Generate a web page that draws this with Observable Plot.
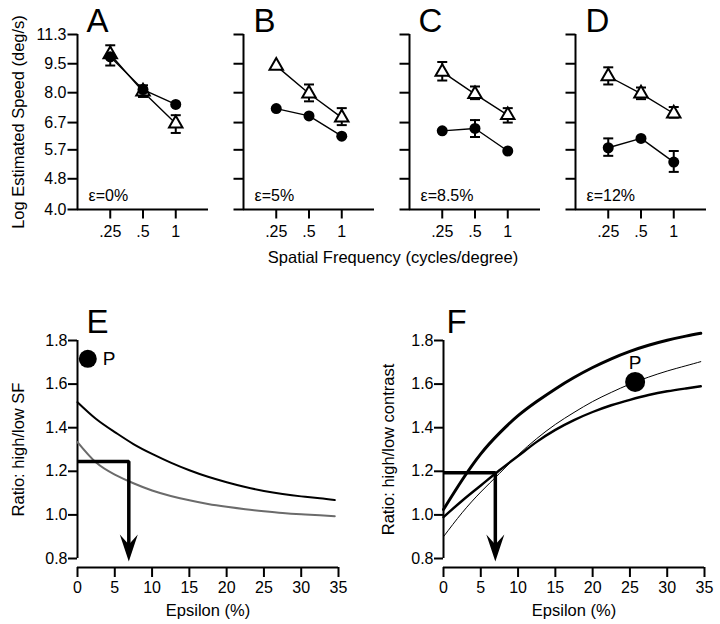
<!DOCTYPE html>
<html>
<head>
<meta charset="utf-8">
<script src="https://cdn.jsdelivr.net/npm/d3@7"></script>
<script src="https://cdn.jsdelivr.net/npm/@observablehq/plot@0.6"></script>
<style>
  html, body { margin: 0; padding: 0; background: #fff; }
  #root { position: relative; width: 720px; height: 624px; overflow: hidden; background: #fff;
          font-family: "Liberation Sans", Arial, Helvetica, sans-serif; color: #000; }
  .cell { position: absolute; }
  .xlab { position: absolute; font-size: 16.5px; white-space: nowrap; transform: translate(-50%, -50%); }
</style>
</head>
<body>
<div id="root"></div>
<script>
// ---------------- data: top row (A-D) ----------------
const sf = [0.25, 0.5, 1];
const sfTickLabels = [".25", ".5", "1"];
const sfDomain = [0.125, 2];
const speedTicks = [4.0, 4.8, 5.7, 6.7, 8.0, 9.5, 11.3];
const speedTickLabels = ["4.0", "4.8", "5.7", "6.7", "8.0", "9.5", "11.3"];
const speedDomain = [4.0, 11.3];
const topLetters = ["A", "B", "C", "D"];
const epsilonLabels = ["ε=0%", "ε=5%", "ε=8.5%", "ε=12%"];
const topYLabel = "Log Estimated Speed (deg/s)";
const topXLabel = "Spatial Frequency (cycles/degree)";

// open triangles
const openMeans = [[10.05, 8.05, 6.66], [9.38, 7.96, 6.9], [9.05, 7.93, 7.0], [8.82, 7.96, 7.07]];
const openLow   = [[9.4, 7.8, 6.3], [null, 7.6, 6.6], [8.6, 7.7, 6.7], [8.4, 7.7, 6.9]];
const openHigh  = [[10.6, 8.36, 7.0], [null, 8.4, 7.3], [9.6, 8.3, 7.3], [9.3, 8.25, 7.35]];
// filled circles
const filledMeans = [[9.9, 8.15, 7.46], [7.28, 6.97, 6.18], [6.38, 6.47, 5.66], [5.77, 6.1, 5.3]];
const filledLow   = [[null, null, null], [null, null, null], [null, 6.15, null], [5.5, null, 5.0]];
const filledHigh  = [[null, null, null], [null, null, null], [null, 6.8, null], [6.1, null, 5.66]];

// ---------------- data: bottom row (E, F) ----------------
const epsTicks = [0, 5, 10, 15, 20, 25, 30, 35];
const epsDomain = [0, 35];
const ratioTicks = [0.8, 1.0, 1.2, 1.4, 1.6, 1.8];
const ratioDomain = [0.8, 1.8];
const epsXLabel = "Epsilon (%)";
const epsGrid = [0, 2.5, 5, 7.5, 10, 12.5, 15, 17.5, 20, 22.5, 25, 27.5, 30, 32.5, 34.5];

const eBlack = [1.517, 1.44, 1.38, 1.325, 1.28, 1.24, 1.205, 1.175, 1.15, 1.128, 1.11, 1.096, 1.085, 1.076, 1.068];
const eGray  = [1.334, 1.24, 1.185, 1.145, 1.112, 1.087, 1.067, 1.05, 1.037, 1.026, 1.017, 1.009, 1.003, 0.998, 0.994];
const fTop   = [1.025, 1.16, 1.28, 1.375, 1.455, 1.52, 1.578, 1.63, 1.676, 1.716, 1.75, 1.778, 1.801, 1.82, 1.833];
const fThin  = [0.90, 1.01, 1.105, 1.19, 1.275, 1.35, 1.415, 1.47, 1.52, 1.562, 1.60, 1.632, 1.66, 1.684, 1.703];
const fLower = [0.99, 1.065, 1.135, 1.205, 1.27, 1.335, 1.39, 1.435, 1.472, 1.503, 1.528, 1.55, 1.567, 1.58, 1.59];

const pointE = {eps: 1.38, ratio: 1.716, label: "P"};
const pointF = {eps: 25.7, ratio: 1.61, label: "P"};
const arrowE = {start: 0, level: 1.245, drop: 6.88, shaftEnd: 0.84, tip: 0.786};
const arrowF = {start: 0, level: 1.193, drop: 6.95, shaftEnd: 0.84, tip: 0.786};

// ---------------- rendering ----------------
const FONT = '"Liberation Sans", Arial, Helvetica, sans-serif';
const root = document.getElementById("root");

const capSymbol = { draw(ctx) { ctx.moveTo(-5, 0); ctx.lineTo(5, 0); } };
const yTickSymbol = { draw(ctx) { ctx.moveTo(0, 0); ctx.lineTo(-10, 0); } };
const xTickSymbol = { draw(ctx) { ctx.moveTo(0, 0); ctx.lineTo(0, 9); } };
const arrowHeadSymbol = { draw(ctx) { ctx.moveTo(0, 0); ctx.lineTo(9, -27); ctx.lineTo(0, -17); ctx.lineTo(-9, -27); ctx.closePath(); } };

function place(node, left, top) {
  const d = document.createElement("div");
  d.className = "cell";
  d.style.left = left + "px";
  d.style.top = top + "px";
  d.appendChild(node);
  root.appendChild(d);
}

const topLeft = [0, 166, 332, 498];
const topLetterDx = [9, 10, 9, 10];

function topPanel(i) {
  const rows = sf.map((x, j) => ({x, open: openMeans[i][j], filled: filledMeans[i][j]}));
  const errs = [];
  sf.forEach((x, j) => {
    if (openLow[i][j] != null) errs.push({x, lo: openLow[i][j], hi: openHigh[i][j]});
    if (filledLow[i][j] != null) errs.push({x, lo: filledLow[i][j], hi: filledHigh[i][j]});
  });
  const caps = errs.flatMap(e => [{x: e.x, y: e.lo}, {x: e.x, y: e.hi}]);
  const yTicks = speedTicks.map((v, k) => ({x: sfDomain[0], y: v, label: speedTickLabels[k]}));
  const xTicks = sf.map((v, k) => ({x: v, y: speedDomain[0], label: sfTickLabels[k]}));
  const marks = [
    Plot.ruleX([sfDomain[0]], {stroke: "#000", strokeWidth: 2}),
    Plot.ruleY([speedDomain[0]], {stroke: "#000", strokeWidth: 2}),
    Plot.dot(yTicks, {x: "x", y: "y", symbol: yTickSymbol, r: 5, fill: "none", stroke: "#000", strokeWidth: 2}),
    Plot.dot(xTicks, {x: "x", y: "y", symbol: xTickSymbol, r: 5, fill: "none", stroke: "#000", strokeWidth: 2}),
    Plot.text(xTicks, {x: "x", y: "y", text: "label", dy: 16, lineAnchor: "top", textAnchor: "middle", fontSize: 16}),
    Plot.line(rows, {x: "x", y: "open", stroke: "#000", strokeWidth: 1.4}),
    Plot.line(rows, {x: "x", y: "filled", stroke: "#000", strokeWidth: 1.4}),
    Plot.ruleX(errs, {x: "x", y1: "lo", y2: "hi", stroke: "#000", strokeWidth: 2}),
    Plot.dot(caps, {x: "x", y: "y", symbol: capSymbol, r: 5, fill: "none", stroke: "#000", strokeWidth: 2}),
    Plot.dot(rows, {x: "x", y: "open", symbol: "triangle", r: 5, fill: "white", stroke: "#000", strokeWidth: 2}),
    Plot.dot(rows, {x: "x", y: "filled", r: 5.5, fill: "#000", stroke: "none"}),
    Plot.text([topLetters[i]], {text: d => d, frameAnchor: "top-left", dx: topLetterDx[i], dy: -3,
      lineAnchor: "bottom", textAnchor: "start", fontSize: 33}),
    Plot.text([epsilonLabels[i]], {text: d => d, frameAnchor: "bottom-left", dx: 11, dy: -9,
      lineAnchor: "bottom", textAnchor: "start", fontSize: 16})
  ];
  if (i === 0) {
    marks.push(Plot.text(yTicks, {x: "x", y: "y", text: "label", dx: -11, textAnchor: "end", lineAnchor: "middle", fontSize: 16}));
    marks.push(Plot.text([topYLabel], {text: d => d, frameAnchor: "left", dx: -59, rotate: -90,
      textAnchor: "middle", lineAnchor: "middle", fontSize: 16.5}));
  }
  return Plot.plot({
    width: 215, height: 245,
    marginLeft: 77, marginRight: 7, marginTop: 34, marginBottom: 36,
    x: {type: "log", domain: sfDomain, label: null, axis: null},
    y: {type: "log", domain: speedDomain, label: null, axis: null},
    style: {background: "none", fontFamily: FONT, fontSize: "16px", color: "#000", overflow: "visible"},
    marks
  });
}

function bottomPanel(cfg) {
  const curveRows = cfg.curves.map(c => epsGrid.map((e, j) => ({eps: e, ratio: c.values[j]})));
  const a = cfg.arrow;
  const arrowPath = [{eps: a.start, ratio: a.level}, {eps: a.drop, ratio: a.level}, {eps: a.drop, ratio: a.shaftEnd}];
  const marks = [
    Plot.ruleX([{eps: epsDomain[0], y1: ratioDomain[0], y2: ratioDomain[1]}], {x: "eps", y1: "y1", y2: "y2", stroke: "#000", strokeWidth: 2}),
    Plot.ruleY([ratioDomain[0]], {dy: 9, stroke: "#000", strokeWidth: 2}),
    Plot.axisY(ratioTicks, {tickSize: 9, tickPadding: 1, strokeWidth: 2, fontSize: 16, label: null,
      tickFormat: d => d.toFixed(1)}),
    Plot.axisX(epsTicks, {tickSize: 10, tickPadding: 4, dy: 9, strokeWidth: 2, fontSize: 16, label: null,
      tickFormat: d => String(d)}),
    Plot.text([epsXLabel], {text: d => d, frameAnchor: "bottom", dy: 52, lineAnchor: "middle", fontSize: 16.5}),
    Plot.text([cfg.yLabel], {text: d => d, frameAnchor: "left", dx: -cfg.yLabelOffset, rotate: -90,
      textAnchor: "middle", lineAnchor: "middle", fontSize: 16.5}),
    Plot.text([cfg.letter], {text: d => d, frameAnchor: "top-left", dx: cfg.letterDx, dy: -8,
      lineAnchor: "bottom", textAnchor: "start", fontSize: 33}),
    ...cfg.curves.map((c, k) => Plot.line(curveRows[k], {x: "eps", y: "ratio", curve: "natural",
      stroke: c.color, strokeWidth: c.width})),
    Plot.line(arrowPath, {x: "eps", y: "ratio", stroke: "#000", strokeWidth: 3.5, strokeLinejoin: "miter", strokeLinecap: "butt"}),
    Plot.dot([{eps: a.drop, ratio: a.tip}], {x: "eps", y: "ratio", symbol: arrowHeadSymbol, r: 10, fill: "#000", stroke: "none"}),
    Plot.dot([cfg.point], {x: "eps", y: "ratio", r: cfg.pointR, fill: "#000", stroke: "none"}),
    Plot.text([cfg.point], {x: "eps", y: "ratio", text: "label", fontSize: 19, ...cfg.pLabelPos})
  ];
  return Plot.plot({
    width: 345, height: 324,
    marginLeft: 77, marginRight: 7, marginTop: 40, marginBottom: 66,
    x: {domain: epsDomain, label: null},
    y: {domain: ratioDomain, label: null},
    style: {background: "none", fontFamily: FONT, fontSize: "16px", color: "#000", overflow: "visible"},
    marks
  });
}

topLeft.forEach((left, i) => place(topPanel(i), left, 0));

const xl = document.createElement("div");
xl.className = "xlab";
xl.style.left = "393px";
xl.style.top = "257px";
xl.textContent = topXLabel;
root.appendChild(xl);

place(bottomPanel({
  letter: "E", letterDx: 9, yLabel: "Ratio: high/low SF", yLabelOffset: 59,
  curves: [{values: eBlack, color: "#000", width: 2}, {values: eGray, color: "#6b6b6b", width: 2}],
  arrow: arrowE, point: pointE, pointR: 9,
  pLabelPos: {dx: 15, textAnchor: "start", lineAnchor: "middle"}
}), 0, 300);

place(bottomPanel({
  letter: "F", letterDx: 3, yLabel: "Ratio: high/low contrast", yLabelOffset: 55,
  curves: [{values: fTop, color: "#000", width: 3}, {values: fLower, color: "#000", width: 2.4}, {values: fThin, color: "#000", width: 1}],
  arrow: arrowF, point: pointF, pointR: 10,
  pLabelPos: {dy: -19, textAnchor: "middle", lineAnchor: "middle"}
}), 366, 300);
</script>
</body>
</html>
